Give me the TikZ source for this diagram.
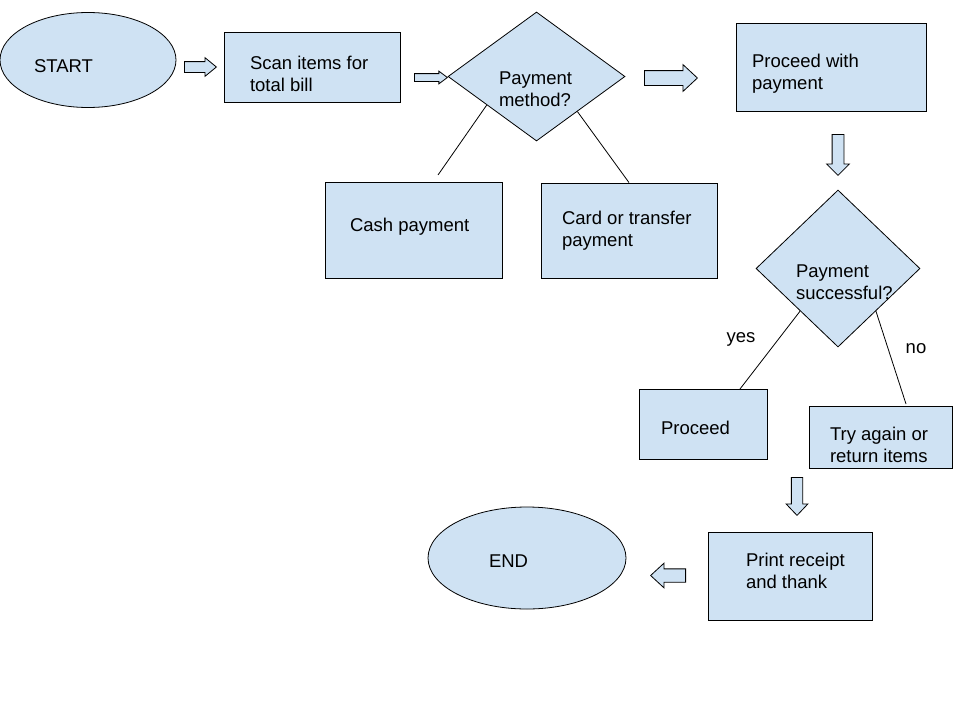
\documentclass[tikz,border=0pt]{standalone}
\usepackage{fontspec}
\setmainfont{Liberation Sans}
\usetikzlibrary{shapes.geometric,shapes.arrows,calc}

\definecolor{flowblue}{HTML}{CFE2F3}

% text inside a shape: width, shift down, lines
\newcommand{\ntext}[3]{\raisebox{\dimexpr-6.8pt-(#2pt)\relax}[0pt][0pt]{\makebox[#1pt][l]{\begin{tabular}{@{}l@{}}#3\end{tabular}}}}

\begin{document}
\begin{tikzpicture}[
    x=1pt, y=-1pt,
    font=\fontsize{18.5}{22}\selectfont,
    shapebase/.style={draw=black, fill=flowblue, line width=0.8pt, inner sep=0pt},
    box/.style={shapebase, rectangle},
    term/.style={shapebase, ellipse},
    decision/.style={shapebase, diamond},
    blockarrow/.style={shapebase, single arrow, inner xsep=0pt, single arrow head indent=0pt, anchor=tail},
    link/.style={line width=0.8pt},
    lbl/.style={inner sep=0pt}
]
    \fill[white] (0,0) rectangle (960,720);
    \useasboundingbox (0,0) rectangle (960,720);

    % Start and scan
    \node[term, minimum width=176, minimum height=95] (start) at (88,60) {\ntext{108}{5.7}{START}};
    \node[blockarrow, inner ysep=5pt, single arrow head extend=4pt, single arrow tip angle=78.6, minimum height=32] (a1) at (184,67) {};
    \node[box, minimum width=176, minimum height=70] (scan) at (312,67) {\ntext{124}{6.3}{Scan items for\\total bill}};
    \node[blockarrow, inner ysep=3.5pt, single arrow head extend=2.5pt, single arrow tip angle=73.7, minimum height=33] (a2) at (414,77.5) {};

    % Payment method
    \node[decision, minimum width=177, minimum height=129] (pm) at (536.5,76.5) {\ntext{75}{12.5}{Payment\\method?}};
    \node[box, minimum width=177, minimum height=96] (cash) at (413.5,230) {\ntext{127}{-5.5}{Cash payment}};
    \node[box, minimum width=176, minimum height=95] (card) at (629,230.5) {\ntext{134}{-1.5}{Card or transfer\\payment}};

    \coordinate (cashend) at (438,175);
    \draw[link] ($(pm.west)!0.44!(pm.south)$) -- (cashend);
    \draw[link] ($(pm.south)!0.46!(pm.east)$) -- (card.north);

    \node[blockarrow, inner ysep=7pt, single arrow head extend=6pt, single arrow tip angle=85.8, minimum height=53] (a3) at (644,78) {};
    \node[box, minimum width=190, minimum height=88] (pay) at (831,67) {\ntext{158}{5}{Proceed with\\payment}};
    \node[blockarrow, rotate=-90, inner ysep=5.5pt, single arrow head extend=5.5pt, single arrow tip angle=90, minimum height=41] (a4) at (838,134) {};

    % Payment successful
    \node[decision, minimum width=164, minimum height=157] (ps) at (838,268.5) {\ntext{84}{13}{Payment\\successful?}};
    \node[box, minimum width=128, minimum height=70] (proceed) at (703,424) {\ntext{84}{3.5}{Proceed}};
    \node[box, minimum width=143, minimum height=62] (retry) at (880.5,437) {\ntext{101}{8}{Try again or\\return items}};

    \coordinate (yesend) at (740,389);
    \coordinate (noend) at (906,404);
    \draw[link] ($(ps.west)!0.54!(ps.south)$) -- (yesend);
    \draw[link] ($(ps.south)!0.46!(ps.east)$) -- (noend);
    \node[lbl] (yes) at (741,339) {yes};
    \node[lbl] (no) at (916,349) {no};

    % Receipt and end
    \node[blockarrow, rotate=-90, inner ysep=5.25pt, single arrow head extend=5.25pt, single arrow tip angle=87, minimum height=38] (a5) at (797,477) {};
    \node[box, minimum width=164, minimum height=88] (print) at (790,576) {\ntext{88}{-5.5}{Print receipt\\and thank}};
    \node[blockarrow, rotate=180, inner ysep=6.25pt, single arrow head extend=5.75pt, single arrow tip angle=85.4, minimum height=35] (a6) at (686,575.5) {};
    \node[term, minimum width=198, minimum height=102] (end) at (527,558) {\ntext{76}{3}{END}};
\end{tikzpicture}
\end{document}
